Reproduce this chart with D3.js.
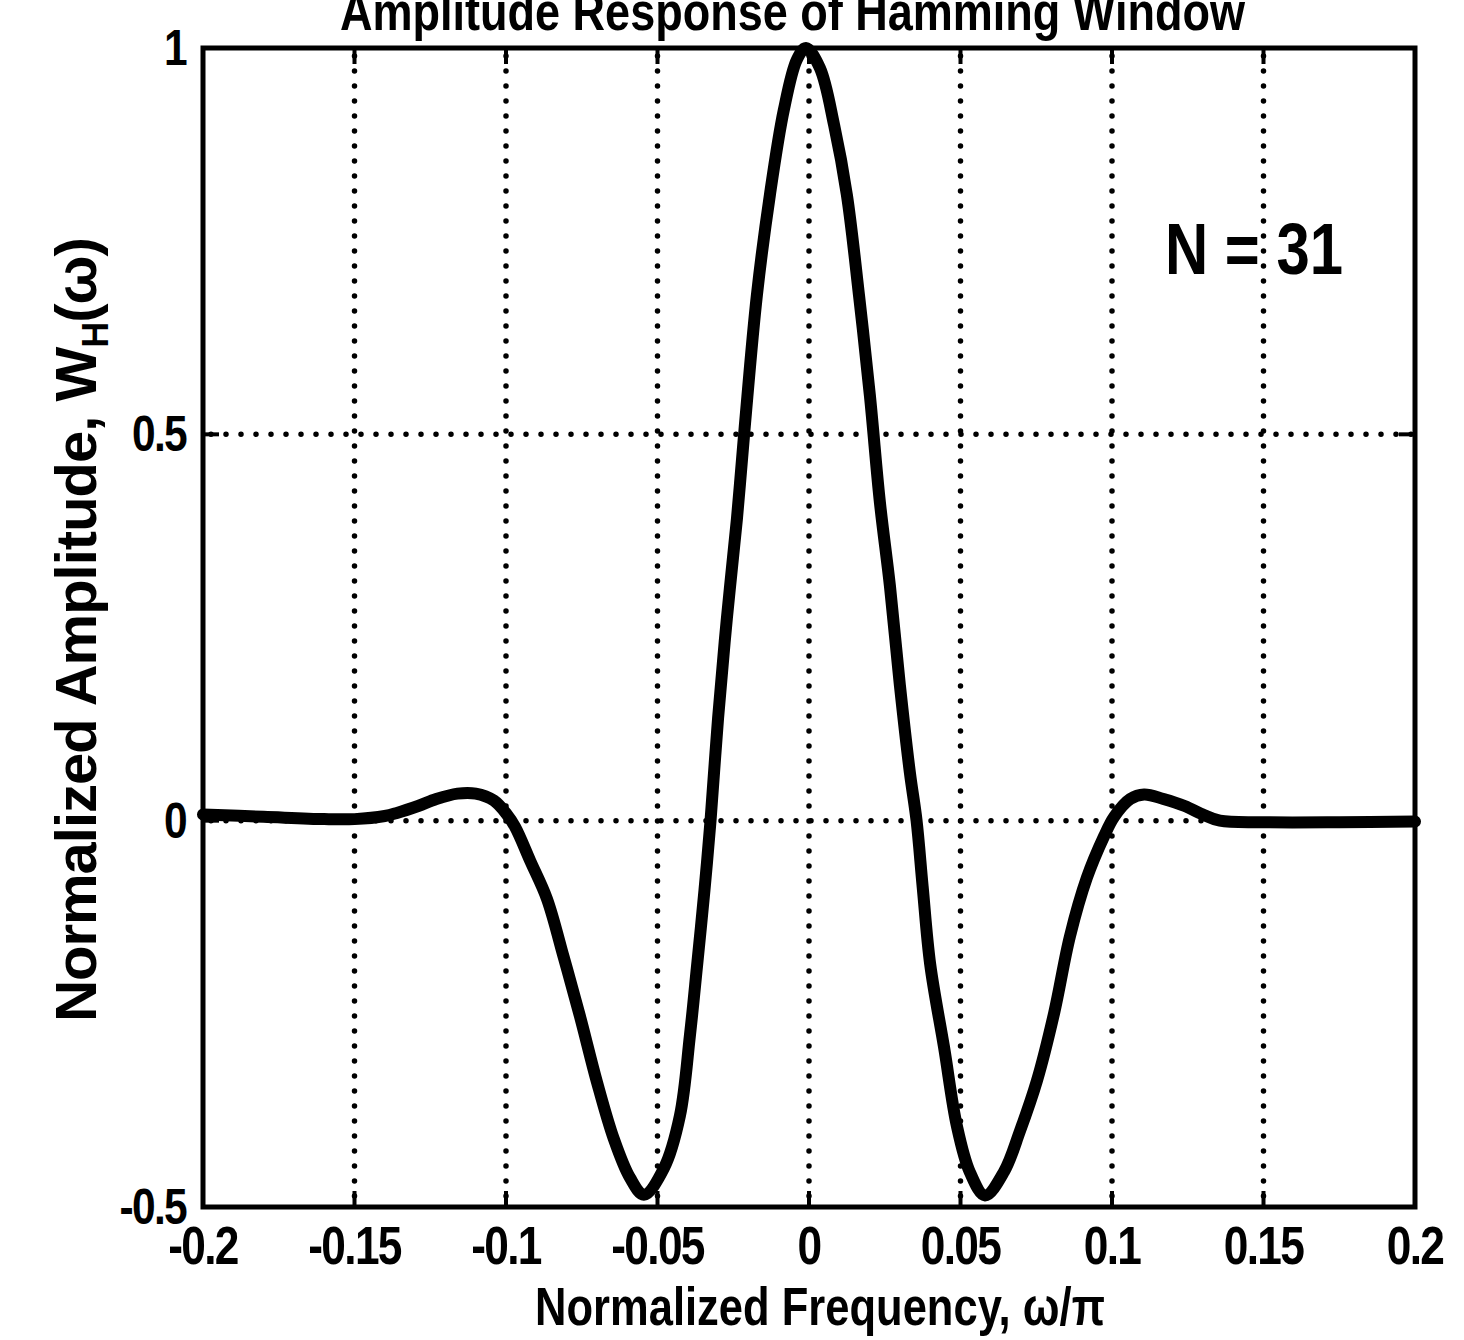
<!DOCTYPE html>
<html><head><meta charset="utf-8">
<script src="https://cdn.jsdelivr.net/npm/d3@7"></script>
<style>body{margin:0;background:#fff}svg{display:block}</style>
</head><body>
<script>
const titleText = "Amplitude Response of Hamming Window";
const xLabel = "Normalized Frequency, ω/π";
const annotation = "N = 31";
const xTicks = [-0.2, -0.15, -0.1, -0.05, 0, 0.05, 0.1, 0.15, 0.2];
const xTickLabels = ["-0.2", "-0.15", "-0.1", "-0.05", "0", "0.05", "0.1", "0.15", "0.2"];
const yTicks = [-0.5, 0, 0.5, 1];
const yTickLabels = ["-0.5", "0", "0.5", "1"];
// response
const freq = [-0.2, -0.18, -0.16, -0.15, -0.14, -0.136, -0.129, -0.123, -0.116, -0.11, -0.104, -0.0997, -0.097, -0.092, -0.0865, -0.081, -0.0756, -0.07, -0.0644, -0.0591, -0.0545, -0.0479, -0.0426, -0.0393, -0.037, -0.0345, -0.0325, -0.030, -0.0271, -0.0238, -0.0212, -0.0172, -0.0129, -0.0083, -0.004, -0.001, 0.0036, 0.0083, 0.0125, 0.0165, 0.0201, 0.0234, 0.0267, 0.030, 0.0333, 0.0355, 0.0375, 0.040, 0.0446, 0.0488, 0.0531, 0.0581, 0.0644, 0.0696, 0.0752, 0.0809, 0.0861, 0.0917, 0.0974, 0.1007, 0.106, 0.1106, 0.117, 0.124, 0.130, 0.1356, 0.15, 0.175, 0.2];
const amp = [0.008, 0.005, 0.002, 0.002, 0.006, 0.010, 0.019, 0.028, 0.035, 0.035, 0.026, 0.008, -0.008, -0.052, -0.101, -0.176, -0.253, -0.338, -0.412, -0.462, -0.484, -0.450, -0.382, -0.278, -0.190, -0.090, 0.0, 0.133, 0.262, 0.39, 0.51, 0.68, 0.81, 0.92, 0.985, 1.0, 0.974, 0.90, 0.81, 0.68, 0.55, 0.412, 0.304, 0.175, 0.062, 0.0, -0.085, -0.186, -0.294, -0.395, -0.455, -0.485, -0.454, -0.402, -0.337, -0.249, -0.150, -0.074, -0.020, 0.005, 0.028, 0.034, 0.028, 0.019, 0.008, 0.0, -0.002, -0.002, -0.001];

const W = 1464, H = 1340;
const svg = d3.select("body").append("svg").attr("width", W).attr("height", H);
const x = d3.scaleLinear().domain([-0.2, 0.2]).range([203, 1415]);
const y = d3.scaleLinear().domain([-0.5, 1]).range([1207, 48]);
const bold = "'Liberation Sans',Arial,sans-serif";

// dotted grid
const grid = svg.append("g").attr("stroke", "#000").attr("stroke-width", 5.5)
  .attr("stroke-linecap", "round").attr("stroke-dasharray", "0,15");
grid.selectAll("line.v").data(xTicks.slice(1, -1)).join("line").attr("class", "v")
  .attr("x1", d => x(d)).attr("x2", d => x(d)).attr("y1", y(1) + 8).attr("y2", y(-0.5));
grid.selectAll("line.h").data([0, 0.5]).join("line").attr("class", "h")
  .attr("y1", d => y(d)).attr("y2", d => y(d)).attr("x1", x(-0.2) + 8).attr("x2", x(0.2));

// curve
const pts = freq.map((f, i) => [f, amp[i]]);
svg.append("path").datum(pts)
  .attr("fill", "none").attr("stroke", "#000").attr("stroke-width", 12)
  .attr("stroke-linejoin", "round").attr("stroke-linecap", "round")
  .attr("d", d3.line().x(d => x(d[0])).y(d => y(d[1])).curve(d3.curveCatmullRom.alpha(0.5)));

// frame
svg.append("rect").attr("x", x(-0.2)).attr("y", y(1)).attr("width", x(0.2) - x(-0.2))
  .attr("height", y(-0.5) - y(1)).attr("fill", "none").attr("stroke", "#000").attr("stroke-width", 5);

// inward ticks
const tk = svg.append("g").attr("stroke", "#000").attr("stroke-width", 4);
xTicks.forEach(t => {
  tk.append("line").attr("x1", x(t)).attr("x2", x(t)).attr("y1", y(-0.5)).attr("y2", y(-0.5) - 16);
  tk.append("line").attr("x1", x(t)).attr("x2", x(t)).attr("y1", y(1)).attr("y2", y(1) + 16);
});
yTicks.forEach(t => {
  tk.append("line").attr("y1", y(t)).attr("y2", y(t)).attr("x1", x(-0.2)).attr("x2", x(-0.2) + 16);
  tk.append("line").attr("y1", y(t)).attr("y2", y(t)).attr("x1", x(0.2)).attr("x2", x(0.2) - 16);
});

// tick labels (condensed heavy look)
svg.append("g").selectAll("text").data(xTicks).join("text")
  .attr("transform", d => `translate(${x(d)},1264) scale(0.82,1)`).attr("text-anchor", "middle")
  .attr("font-family", bold).attr("font-weight", "bold").attr("font-size", 54)
  .attr("letter-spacing", -2)
  .text((d, i) => xTickLabels[i]);
svg.append("g").selectAll("text").data(yTicks).join("text")
  .attr("transform", d => `translate(186,${y(d) + 17}) scale(0.85,1)`).attr("text-anchor", "end")
  .attr("font-family", bold).attr("font-weight", "bold").attr("font-size", 50)
  .attr("letter-spacing", -2)
  .text((d, i) => yTickLabels[i]);

// axis labels
svg.append("text").attr("x", 535).attr("y", 1325)
  .attr("textLength", 570).attr("lengthAdjust", "spacingAndGlyphs")
  .attr("font-family", bold).attr("font-weight", "bold").attr("font-size", 54)
  .text(xLabel);
const yl = svg.append("text").attr("transform", "translate(96,630) rotate(-90)")
  .attr("text-anchor", "middle").attr("font-family", bold).attr("font-weight", "bold")
  .attr("font-size", 58).attr("letter-spacing", -1);
yl.append("tspan").text("Normalized Amplitude,   W");
yl.append("tspan").attr("font-size", 36).attr("dy", 12).text("H");
yl.append("tspan").attr("dy", -12).text("(ω)");

// title (partially cut off at top as in reference)
svg.append("text").attr("x", 340).attr("y", 30)
  .attr("textLength", 905).attr("lengthAdjust", "spacingAndGlyphs")
  .attr("font-family", bold).attr("font-weight", "bold").attr("font-size", 54)
  .text(titleText);

// annotation
svg.append("text").attr("x", 1165).attr("y", 274)
  .attr("textLength", 178).attr("lengthAdjust", "spacingAndGlyphs")
  .attr("font-family", bold).attr("font-weight", "bold").attr("font-size", 72)
  .text(annotation);
</script>
</body></html>
